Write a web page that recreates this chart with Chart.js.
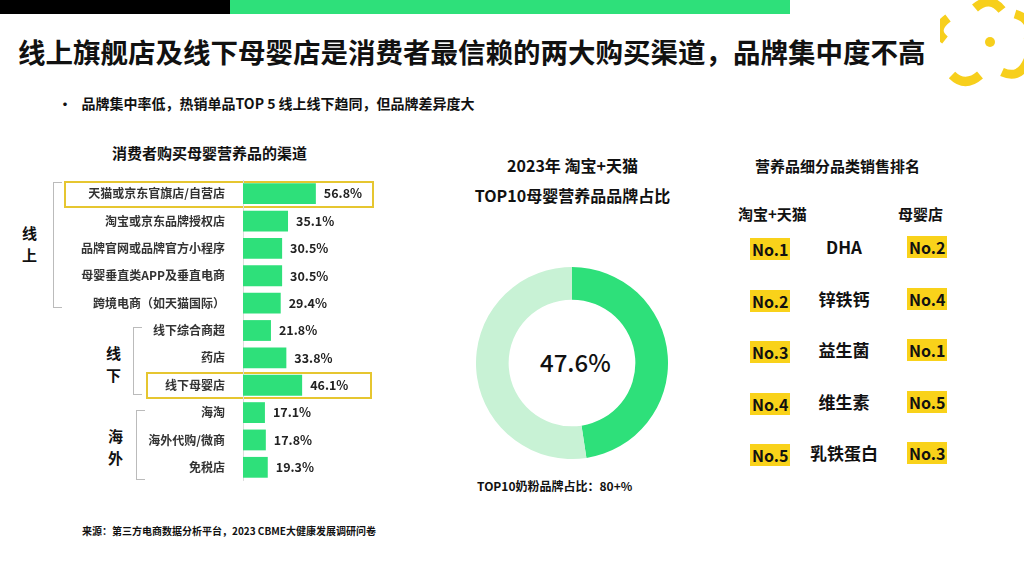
<!DOCTYPE html><html><head><meta charset="utf-8">
<script src="https://cdn.jsdelivr.net/npm/chart.js@4/dist/chart.umd.min.js"></script>
<style>
body{margin:0;width:1024px;height:564px;background:#fff;position:relative;overflow:hidden;font-family:"Noto Sans CJK SC","Noto Sans",sans-serif;color:#111}
.a{position:absolute;white-space:nowrap}
.b{font-weight:bold}
.box{position:absolute;border:2px solid #e6c630}
.br{position:absolute;border:1.5px solid #bbb;border-right:none;width:8px}
.no{position:absolute;background:#f9d21a;font-weight:bold;font-size:16px;padding:1px 2px;line-height:20px}
.pr{position:absolute;font-weight:bold;font-size:17px;width:100px;text-align:center}
</style></head><body>
<div class="a" style="left:0;top:0;width:230px;height:14px;background:#000"></div>
<div class="a" style="left:230px;top:0;width:560px;height:14px;background:#2ee07a"></div>
<svg class="a" style="left:940px;top:0" width="84" height="90"><g fill="none" stroke="#f7cf1c" stroke-width="9"><path d="M35 8 Q50 -5 62 10"/><path d="M75 14 Q95 20 88 40"/><path d="M40 75 Q25 88 12 75"/><path d="M5 40 Q-8 30 8 18"/><path d="M62 72 Q80 80 88 60"/></g><circle cx="50" cy="42" r="5" fill="#f7cf1c"/></svg>
<div class="a b" style="left:18px;top:31px;font-size:27.5px">线上旗舰店及线下母婴店是消费者最信赖的两大购买渠道，品牌集中度不高</div>
<div class="a b" style="left:58px;top:93px;font-size:14px">·&nbsp;&nbsp;&nbsp;品牌集中率低，热销单品TOP 5 线上线下趋同，但品牌差异度大</div>
<div class="a b" style="left:112px;top:142px;font-size:15px">消费者购买母婴营养品的渠道</div>
<div class="a b" style="left:460px;top:150px;font-size:16px;width:225px;text-align:center;line-height:30px">2023年 淘宝+天猫<br>TOP10母婴营养品品牌占比</div>
<div class="a" style="left:540px;top:347px;font-size:24px;width:64px;text-align:center;line-height:30px;font-weight:500">47.6%</div>
<div class="a b" style="left:477px;top:477px;font-size:12px">TOP10奶粉品牌占比：80+%</div>
<div class="a b" style="left:755px;top:155px;font-size:15px">营养品细分品类销售排名</div>
<div class="a b" style="left:738px;top:203px;font-size:15px">淘宝+天猫</div>
<div class="a b" style="left:898px;top:203px;font-size:15px">母婴店</div>
<div class="a b" style="left:82px;top:523px;font-size:10px">来源：第三方电商数据分析平台，2023 CBME大健康发展调研问卷</div>
<div class="box" style="left:64px;top:181px;width:306px;height:23px"></div>
<div class="box" style="left:146px;top:372px;width:222px;height:23px"></div>
<div class="br" style="left:53px;top:182px;height:124px"></div>
<div class="br" style="left:133px;top:327px;height:66px"></div>
<div class="br" style="left:136px;top:410px;height:68px"></div>
<div class="a b" style="left:22px;top:222px;font-size:15px;line-height:22px">线<br>上</div>
<div class="a b" style="left:106px;top:342px;font-size:15px;line-height:22px">线<br>下</div>
<div class="a b" style="left:108px;top:425px;font-size:15px;line-height:22px">海<br>外</div>
<div id="rank"></div>
<canvas id="bar" width="420" height="301" class="a" style="left:0;top:180px;width:420px;height:301px"></canvas>
<canvas id="pie" width="192" height="192" class="a" style="left:476px;top:267px;width:192px;height:192px"></canvas>
<script>
const channels=["天猫或京东官旗店/自营店","淘宝或京东品牌授权店","品牌官网或品牌官方小程序","母婴垂直类APP及垂直电商","跨境电商（如天猫国际）","线下综合商超","药店","线下母婴店","海淘","海外代购/微商","免税店"];
const shares=[56.8,35.1,30.5,30.5,29.4,21.8,33.8,46.1,17.1,17.8,19.3];
const donutLabels=["TOP10品牌","其他"];
const donutValues=[47.6,52.4];
const products=["DHA","锌铁钙","益生菌","维生素","乳铁蛋白"];
const rankOnline=["No.1","No.2","No.3","No.4","No.5"];
const rankStore=["No.2","No.4","No.1","No.5","No.3"];
let h="";products.forEach((p,i)=>{const y=238+i*51.5;
h+=`<div class="no" style="left:750px;top:${y}px">${rankOnline[i]}</div><div class="pr" style="left:794px;top:${y-4}px">${p}</div><div class="no" style="left:907px;top:${y-2}px">${rankStore[i]}</div>`});
document.getElementById('rank').innerHTML=h;
const valPlug={id:'v',afterDatasetsDraw(c){const x=c.ctx,m=c.getDatasetMeta(0);x.save();x.font='bold 12.5px "Noto Sans CJK SC"';x.fillStyle='#222';x.textBaseline='middle';
m.data.forEach((b,i)=>x.fillText(shares[i].toFixed(1)+'%',b.x+8,b.y));x.restore();}};
new Chart(document.getElementById('bar'),{type:'bar',data:{labels:channels,datasets:[{data:shares,backgroundColor:'#2ee07a',barPercentage:0.76,categoryPercentage:1}]},
options:{indexAxis:'y',responsive:false,animation:false,layout:{padding:0},plugins:{legend:{display:false},tooltip:{enabled:false}},
scales:{x:{display:false,min:0,max:138},y:{afterFit(s){s.width=243;s.paddingTop=0;s.paddingBottom=0},grid:{display:false},border:{color:'#ddd'},ticks:{color:'#333',padding:10,font:{size:12,weight:'bold',family:'"Noto Sans CJK SC"'}}}}},plugins:[valPlug]});
new Chart(document.getElementById('pie'),{type:'doughnut',data:{labels:donutLabels,datasets:[{data:donutValues,backgroundColor:['#2ee07a','#c8f2d5'],borderWidth:0}]},
options:{responsive:false,animation:false,cutout:'66%',plugins:{legend:{display:false},tooltip:{enabled:false}}}});
</script></body></html>
